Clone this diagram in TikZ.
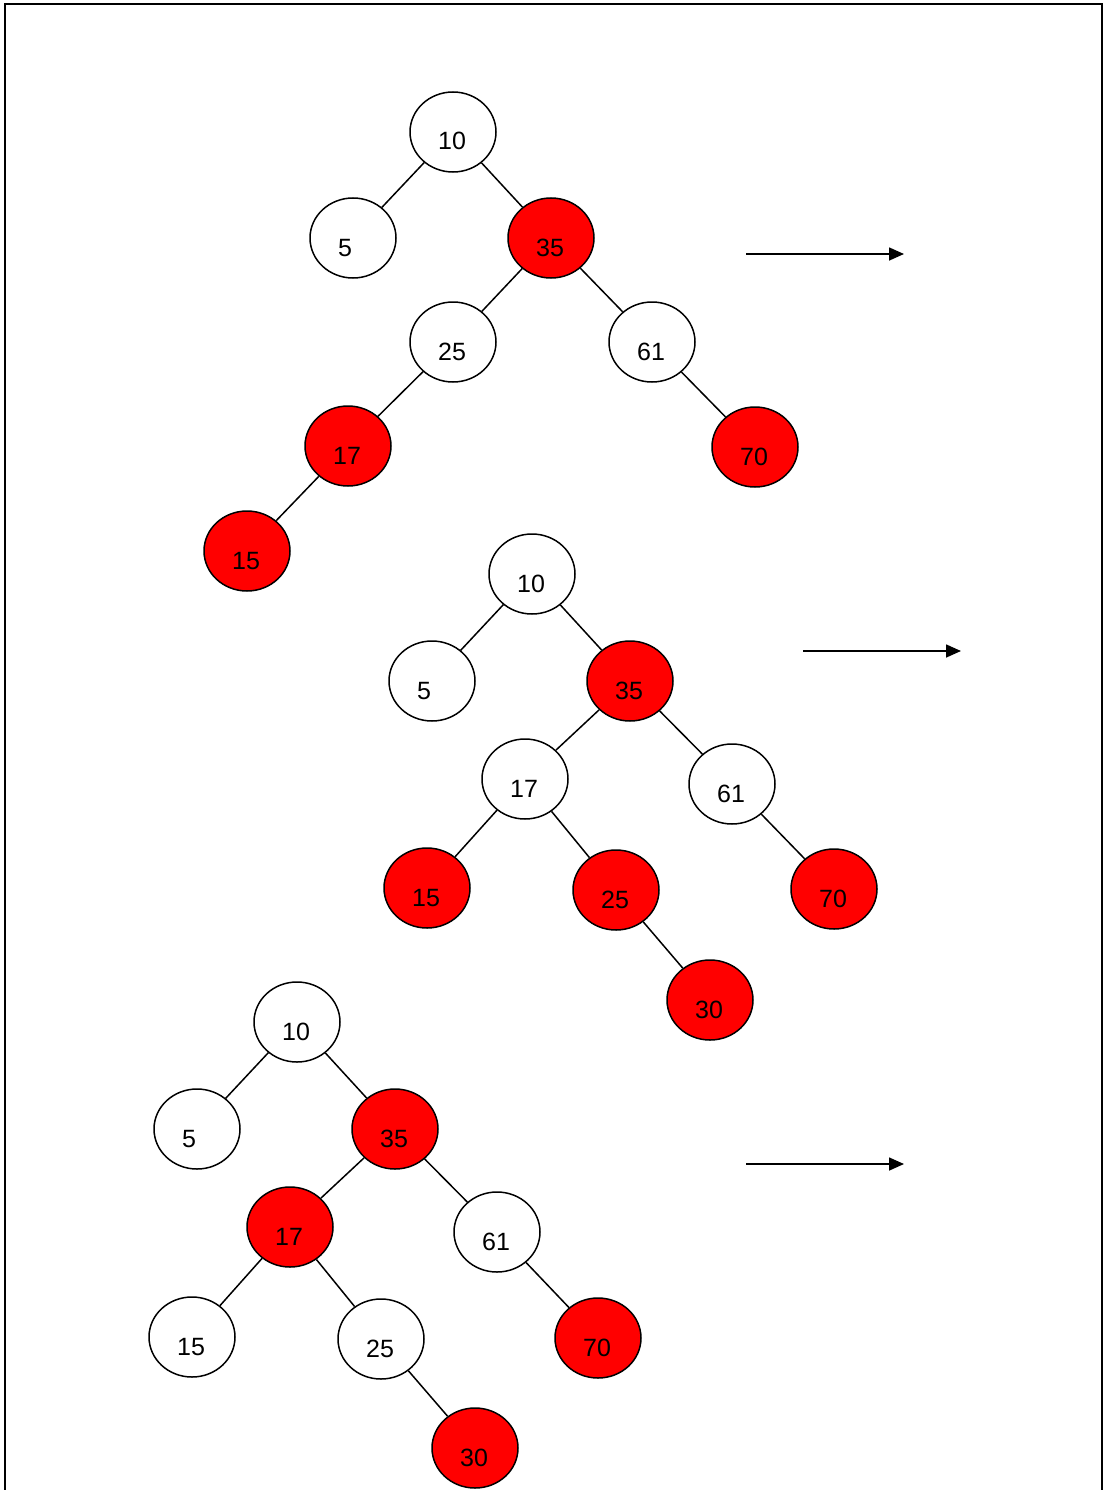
\documentclass[tikz,border=0pt]{standalone}
\usepackage{fontspec}
\setmainfont{Liberation Sans}
\usetikzlibrary{shapes.geometric,arrows.meta,calc}
\tikzset{
  nd/.style={ellipse,draw=black,line width=1.5pt,minimum width=86pt,minimum height=80pt,inner sep=0pt},
  wn/.style={nd,fill=white},
  rn/.style={nd,fill=red},
  lab/.style={anchor=base west,inner sep=0pt,font=\fontsize{25}{29}\selectfont},
  edge/.style={line width=1.5pt,black},
  arr/.style={line width=1.6pt,-{Triangle[length=15pt,width=13pt]}},
  frame/.style={line width=2pt}
}
\newcommand{\tnode}[5]{% style, name, x, y, text
  \node[#1] (#2) at (#3,#4) {};
  \node[lab] (#2t) at ($(#2.center)+(-15,18)$) {#5};
}
\begin{document}
\begin{tikzpicture}[x=1pt,y=-1pt]
\useasboundingbox (0,0) rectangle (1104,1490);
\draw[frame] (5,1492) -- (5,4) -- (1102,4) -- (1102,1492);

% Tree 1
\tnode{wn}{aA}{453}{132}{10}
\tnode{wn}{aB}{353}{238}{5}
\tnode{rn}{aC}{551}{238}{35}
\tnode{wn}{aD}{453}{342}{25}
\tnode{wn}{aE}{652}{342}{61}
\tnode{rn}{aF}{348}{446}{17}
\tnode{rn}{aG}{755}{447}{70}
\tnode{rn}{aH}{247}{551}{15}
\draw[edge] (aA) -- (aB);
\draw[edge] (aA) -- (aC);
\draw[edge] (aC) -- (aD);
\draw[edge] (aC) -- (aE);
\draw[edge] (aD) -- (aF);
\draw[edge] (aE) -- (aG);
\draw[edge] (aF) -- (aH);
\coordinate (p1s) at (746,254);
\coordinate (p1e) at (904,254);
\draw[arr] (p1s) -- (p1e);

% Tree 2
\tnode{wn}{bA}{532}{574}{10}
\tnode{wn}{bB}{432}{681}{5}
\tnode{rn}{bC}{630}{681}{35}
\tnode{wn}{bD}{525}{779}{17}
\tnode{wn}{bE}{732}{784}{61}
\tnode{rn}{bF}{427}{888}{15}
\tnode{rn}{bG}{616}{890}{25}
\tnode{rn}{bH}{834}{889}{70}
\tnode{rn}{bI}{710}{1000}{30}
\draw[edge] (bA) -- (bB);
\draw[edge] (bA) -- (bC);
\draw[edge] (bC) -- (bD);
\draw[edge] (bC) -- (bE);
\draw[edge] (bD) -- (bF);
\draw[edge] (bD) -- (bG);
\draw[edge] (bE) -- (bH);
\draw[edge] (bG) -- (bI);
\coordinate (p2s) at (803,651);
\coordinate (p2e) at (961,651);
\draw[arr] (p2s) -- (p2e);

% Tree 3
\tnode{wn}{cA}{297}{1022}{10}
\tnode{wn}{cB}{197}{1129}{5}
\tnode{rn}{cC}{395}{1129}{35}
\tnode{rn}{cD}{290}{1227}{17}
\tnode{wn}{cE}{497}{1232}{61}
\tnode{wn}{cF}{192}{1337}{15}
\tnode{wn}{cG}{381}{1339}{25}
\tnode{rn}{cH}{598}{1338}{70}
\tnode{rn}{cI}{475}{1448}{30}
\draw[edge] (cA) -- (cB);
\draw[edge] (cA) -- (cC);
\draw[edge] (cC) -- (cD);
\draw[edge] (cC) -- (cE);
\draw[edge] (cD) -- (cF);
\draw[edge] (cD) -- (cG);
\draw[edge] (cE) -- (cH);
\draw[edge] (cG) -- (cI);
\coordinate (p3s) at (746,1164);
\coordinate (p3e) at (904,1164);
\draw[arr] (p3s) -- (p3e);
\end{tikzpicture}
\end{document}
